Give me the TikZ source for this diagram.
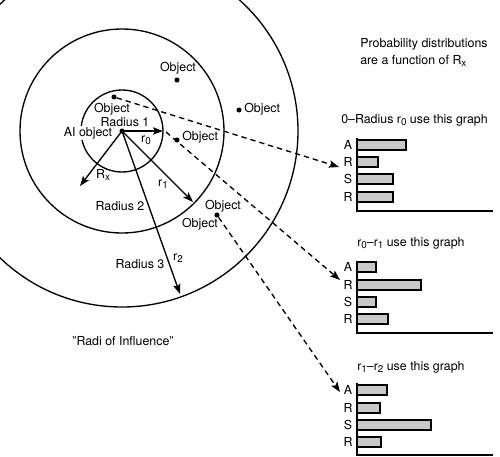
\documentclass[tikz,border=0pt]{standalone}
\usepackage{fontspec}
\setmainfont{TeX Gyre Heros}
\usetikzlibrary{arrows.meta}
\definecolor{barfill}{RGB}{200,200,200}
\newcommand{\lowsub}[1]{\raisebox{-0.35ex}{\fontsize{7.4}{8}\selectfont #1}}

\begin{document}
\begin{tikzpicture}[x=0.75pt,y=0.75pt,yscale=-1,xscale=1,
	every node/.style={font=\fontsize{9.3}{11}\selectfont,inner sep=0.75pt},
	dot/.style={circle,fill=black,inner sep=0pt,minimum size=3.8pt},
	ray/.style={line width=1pt,-{Stealth[length=7.5pt,width=5.5pt,inset=1.5pt]}},
	link/.style={line width=1pt,dash pattern=on 4pt off 3pt,-{Stealth[length=7.5pt,width=5.5pt,inset=1.5pt]}},
	bar/.style={draw,line width=1pt,fill=barfill},
	axis/.style={line width=1pt}]
	\useasboundingbox (0,0) rectangle (500,457);
	\clip (0,0) rectangle (500,457);
	
	%Shape: Circle [radius 1]
	\draw [line width=1pt] (122,131) circle (41);
	%Shape: Circle [radius 2]
	\draw [line width=1pt] (122,131) circle (102);
	%Shape: Circle [radius 3]
	\draw [line width=1pt] (122,131) circle (176);
	
	% Points
	\coordinate (ai) at (122,131);
	\coordinate (r0end) at (163,131);
	\coordinate (r1end) at (193,202);
	\coordinate (r2end) at (180,294);
	\coordinate (rxend) at (80,186);
	\coordinate (near) at (166,132);
	\node [dot] (ai dot) at (ai) {};
	\node [dot] (obj top) at (177,80) {};
	\node [dot] (obj right) at (239,110) {};
	\node [dot] (obj inner) at (114,97) {};
	\node [dot] (obj mid) at (177,140) {};
	\node [dot] (obj low) at (217,215) {};
	
	% Radius arrows
	\draw [ray] (ai) -- (r0end);
	\draw [ray] (ai) -- (r1end);
	\draw [ray] (ai) -- (r2end);
	\draw [ray] (ai) -- (rxend);
	
	% Text Node
	\node (lbl top) at (178,68) {Object};
	\node (lbl right) [anchor=west] at (243,109) {Object};
	\node (lbl inner) at (112,109) {Object};
	\node (lbl r1) at (125,122) {Radius 1};
	\node (lbl ai) [fill=white,inner sep=1pt] at (88,133) {AI object};
	\node (lbl rzero) at (146,140) {r\lowsub{0}};
	\node (lbl mid) [anchor=west] at (181,137) {Object};
	\node (lbl low a) at (223,206) {Object};
	\node (lbl low b) at (200,224) {Object};
	\node (lbl rx) at (103,175) {R\lowsub{x}};
	\node (lbl rone) at (163,184) {r\lowsub{1}};
	\node (lbl r2) at (120,206) {Radius 2};
	\node (lbl rtwo) at (178,258) {r\lowsub{2}};
	\node (lbl r3) at (140,264) {Radius 3};
	\node (lbl radi) at (123,341) {"Radi of Influence"};
	
	% Text Node
	\node (lbl prob) [anchor=north west,align=left,font=\fontsize{9.3}{12.75}\selectfont] at (359,37) {Probability distributions\\are a function of R\lowsub{x}};
	
	%Graph 1
	\node (g1 title) [anchor=west] at (340,120) {0--Radius r\lowsub{0} use this graph};
	\draw [bar] (357,140) rectangle (406,150);
	\draw [bar] (357,157) rectangle (378,167);
	\draw [bar] (357,174) rectangle (393,184);
	\draw [bar] (357,192) rectangle (393,202);
	\draw [axis] (357,138) -- (357,211) -- (493,211);
	\node (g1 a) at (348,145) {A};
	\node (g1 r) at (348,162) {R};
	\node (g1 s) at (348,179) {S};
	\node (g1 rr) at (348,197) {R};
	\coordinate (g1 in) at (339,167);
	
	%Graph 2
	\node (g2 title) [anchor=west] at (356,243) {r\lowsub{0}--r\lowsub{1} use this graph};
	\draw [bar] (357,262) rectangle (376,272);
	\draw [bar] (357,280) rectangle (421,290);
	\draw [bar] (357,297) rectangle (376,307);
	\draw [bar] (357,314) rectangle (388,324);
	\draw [axis] (357,261) -- (357,333) -- (493,333);
	\node (g2 a) at (348,267) {A};
	\node (g2 r) at (348,285) {R};
	\node (g2 s) at (348,302) {S};
	\node (g2 rr) at (348,319) {R};
	\coordinate (g2 in) at (340,280);
	
	%Graph 3
	\node (g3 title) [anchor=west] at (356,367) {r\lowsub{1}--r\lowsub{2} use this graph};
	\draw [bar] (357,385) rectangle (387,395);
	\draw [bar] (357,403) rectangle (380,413);
	\draw [bar] (357,420) rectangle (431,430);
	\draw [bar] (357,437) rectangle (381,447);
	\draw [axis] (357,383) -- (357,455) -- (493,455);
	\node (g3 a) at (348,390) {A};
	\node (g3 r) at (348,408) {R};
	\node (g3 s) at (348,425) {S};
	\node (g3 rr) at (348,442) {R};
	\coordinate (g3 in) at (340,392);
	
	% Dashed links
	\draw [link] (obj inner) -- (g1 in);
	\draw [link] (near) -- (g2 in);
	\draw [link] (obj low) -- (g3 in);
	
\end{tikzpicture}
\end{document}
